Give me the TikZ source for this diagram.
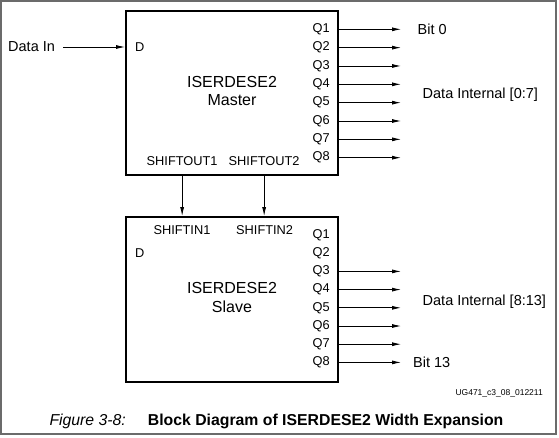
\documentclass[tikz,border=0pt]{standalone}
\usepackage{fontspec}
\setmainfont{Liberation Sans}
\usetikzlibrary{positioning,arrows.meta}
\begin{document}
\begin{tikzpicture}[>={Latex[length=9pt,width=4pt]}, x=1pt, y=-1pt,
    blk/.style={draw, line width=2pt, minimum width=212pt, inner sep=0pt},
    lbl/.style={inner sep=0pt, anchor=west, font=\fontsize{12.8}{14}\selectfont},
    qpin/.style={inner sep=0pt, anchor=east, font=\fontsize{12.8}{14}\selectfont},
    big/.style={inner sep=0pt, anchor=west, font=\fontsize{14.5}{16}\selectfont},
    title/.style={inner sep=0pt, font=\fontsize{16}{18}\selectfont},
    wire/.style={->, line width=.8pt}]
    \useasboundingbox (0,0) rectangle (559,437);
    \draw [line width=2pt, black!58] (1,1) rectangle (556,434);
    % master block
    \node [blk, minimum height=164pt] (master) at (232,93) {};
    \node [title] (mname) at (232,82) {ISERDESE2};
    \node [title, below=6.5pt of mname] (mrole) {Master};
    \node [lbl] (md) at (135,47) {D};
    \node [big] (datain) at (8,47) {Data In};
    \draw [wire] ([xshift=8pt]datain.east) -- (datain.east -| master.west);
    \node [lbl] (so1) at (146.5,161.5) {SHIFTOUT1};
    \node [lbl] (so2) at (228.5,161.5) {SHIFTOUT2};
    \foreach \i [evaluate=\i as \y using {29.3+18.34*(\i-1)}] in {1,...,8} {
        \node [qpin] (mq\i) at (330,\y) {Q\i};
        \coordinate (mo\i) at ([xshift=62pt]master.east |- mq\i);
        \draw [wire] (master.east |- mq\i) -- (mo\i);
    }
    \node [big] (bit0) at (417.5,29.3) {Bit 0};
    \node [big] (dint0) at (422.5,94.5) {Data Internal [0:7]};
    % slave block
    \node [blk, minimum height=165pt] (slave) at (232,299.5) {};
    \node [title] (sname) at (232,288) {ISERDESE2};
    \node [title, below=6.5pt of sname] (srole) {Slave};
    \node [lbl] (sd) at (135,253) {D};
    \node [lbl] (si1) at (153.3,230) {SHIFTIN1};
    \node [lbl] (si2) at (236,230) {SHIFTIN2};
    \draw [wire] (so1 |- master.south) -- (so1 |- slave.north);
    \draw [wire] (so2 |- master.south) -- (so2 |- slave.north);
    \foreach \i [evaluate=\i as \y using {235+18.2*(\i-1)}] in {1,...,8}
        \node [qpin] (sq\i) at (330,\y) {Q\i};
    \foreach \i in {3,...,8} {
        \coordinate (sout\i) at ([xshift=62pt]slave.east |- sq\i);
        \draw [wire] (slave.east |- sq\i) -- (sout\i);
    }
    \node [big] (dint8) at (422.5,301.5) {Data Internal [8:13]};
    \node [big] (bit13) at (413,362.3) {Bit 13};
    % figure id and caption
    \node [inner sep=0pt, anchor=east, font=\fontsize{8.5}{10}\selectfont] (figid) at (543,393.5) {UG471\_c3\_08\_012211};
    \node [inner sep=0pt, anchor=west, font=\fontsize{15.8}{18}\selectfont\itshape] (fignum) at (49.3,421.5) {Figure 3-8:};
    \node [inner sep=0pt, anchor=west, font=\fontsize{15.8}{18}\selectfont\bfseries] (figcap) at (147.7,421.5) {Block Diagram of ISERDESE2 Width Expansion};
\end{tikzpicture}
\end{document}
